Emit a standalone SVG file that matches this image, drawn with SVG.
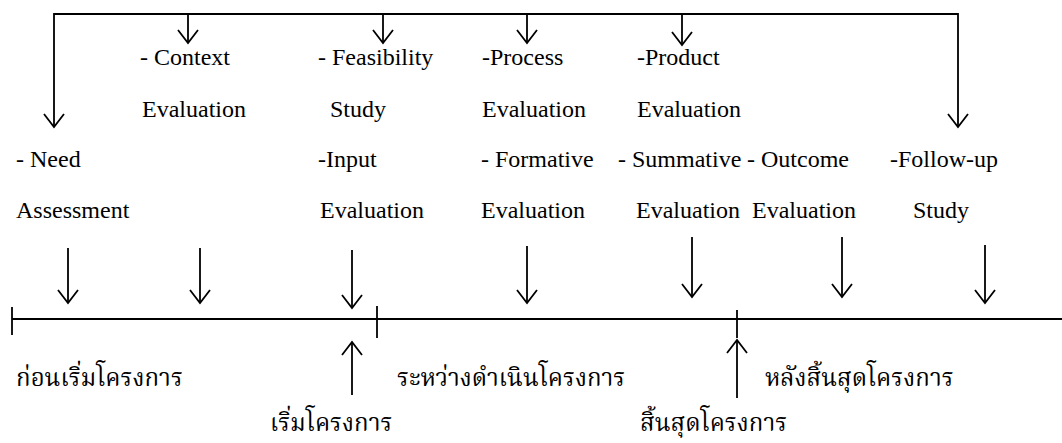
<svg xmlns="http://www.w3.org/2000/svg" width="1062" height="443" viewBox="0 0 1062 443">
<style>
.ln{stroke:#000;stroke-width:1.8;fill:none}
.ah{stroke:#000;stroke-width:1.8;fill:none;stroke-linejoin:miter}
.en{font-family:"Liberation Serif","Times New Roman",serif;font-size:24px;fill:#000}
.th{font-family:"Noto Serif Thai","Norasi","Noto Sans Thai","Loma","Garuda","DejaVu Sans",serif;font-size:24px;fill:#000}
</style>
<defs>
<path id="dn" class="ah" d="M-10,-13 L0,0 L10,-13"/>
<path id="up" class="ah" d="M-10,13 L0,0 L10,13"/>
</defs>
<rect width="1062" height="443" fill="#fff"/>
<g id="connectors">
<path class="ln" d="M54,127 V14 H958 V127"/>
<use href="#dn" x="54" y="127"/>
<use href="#dn" x="958" y="127"/>
<line class="ln" x1="188" y1="14" x2="188" y2="43"/><use href="#dn" x="188" y="43"/>
<line class="ln" x1="383" y1="14" x2="383" y2="43"/><use href="#dn" x="383" y="43"/>
<line class="ln" x1="527" y1="14" x2="527" y2="43"/><use href="#dn" x="527" y="43"/>
<line class="ln" x1="682" y1="14" x2="682" y2="45"/><use href="#dn" x="682" y="45"/>
<line class="ln" x1="68" y1="248" x2="68" y2="303"/><use href="#dn" x="68" y="303"/>
<line class="ln" x1="200" y1="248" x2="200" y2="303"/><use href="#dn" x="200" y="303"/>
<line class="ln" x1="352" y1="250" x2="352" y2="308"/><use href="#dn" x="352" y="308"/>
<line class="ln" x1="527" y1="246" x2="527" y2="303"/><use href="#dn" x="527" y="303"/>
<line class="ln" x1="692" y1="237" x2="692" y2="297"/><use href="#dn" x="692" y="297"/>
<line class="ln" x1="842" y1="237" x2="842" y2="297"/><use href="#dn" x="842" y="297"/>
<line class="ln" x1="985" y1="245" x2="985" y2="303"/><use href="#dn" x="985" y="303"/>
<line class="ln" x1="12" y1="319" x2="1062" y2="319"/>
<line class="ln" x1="12" y1="307" x2="12" y2="335"/>
<line class="ln" x1="377" y1="306" x2="377" y2="338"/>
<line class="ln" x1="737" y1="310" x2="737" y2="338"/>
<line class="ln" x1="352" y1="342" x2="352" y2="395"/><use href="#up" x="352" y="342"/>
<line class="ln" x1="737" y1="340" x2="737" y2="398"/><use href="#up" x="737" y="340"/>
</g>
<g id="need"><text class="en" x="16" y="167">- Need</text><text class="en" x="16" y="218">Assessment</text></g>
<g id="context"><text class="en" x="140" y="65">- Context</text><text class="en" x="142" y="117">Evaluation</text></g>
<g id="feasibility"><text class="en" x="318" y="65">- Feasibility</text><text class="en" x="330" y="117">Study</text></g>
<g id="input"><text class="en" x="318" y="167">-Input</text><text class="en" x="320" y="218">Evaluation</text></g>
<g id="process"><text class="en" x="482" y="65">-Process</text><text class="en" x="482" y="117">Evaluation</text></g>
<g id="formative"><text class="en" x="481" y="167">- Formative</text><text class="en" x="481" y="218">Evaluation</text></g>
<g id="product"><text class="en" x="637" y="65">-Product</text><text class="en" x="637" y="117">Evaluation</text></g>
<g id="summative"><text class="en" x="618" y="167">- Summative</text><text class="en" x="636" y="218">Evaluation</text></g>
<g id="outcome"><text class="en" x="747" y="167">- Outcome</text><text class="en" x="752" y="218">Evaluation</text></g>
<g id="followup"><text class="en" x="890" y="167">-Follow-up</text><text class="en" x="913" y="218">Study</text></g>
<g id="before"><text class="th" x="16" y="386">ก่อนเริ่มโครงการ</text></g>
<g id="during"><text class="th" x="397" y="386">ระหว่างดำเนินโครงการ</text></g>
<g id="after"><text class="th" x="765" y="386">หลังสิ้นสุดโครงการ</text></g>
<g id="start"><text class="th" x="270" y="431">เริ่มโครงการ</text></g>
<g id="end"><text class="th" x="640" y="431">สิ้นสุดโครงการ</text></g>
</svg>
